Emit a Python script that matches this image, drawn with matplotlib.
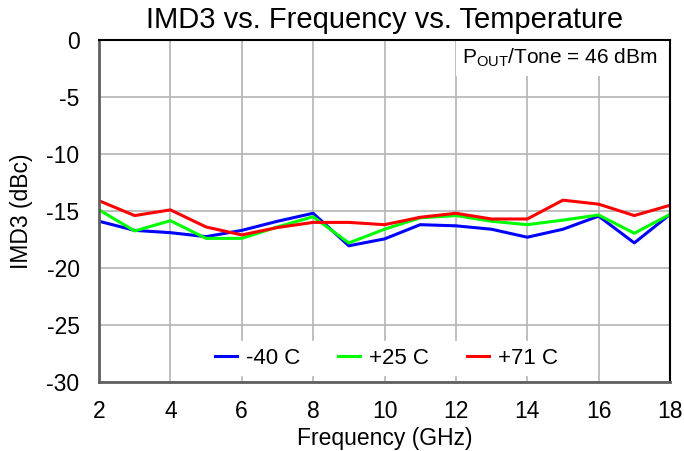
import numpy as np
import matplotlib.pyplot as plt

plt.rcParams['font.family'] = ['Liberation Sans', 'DejaVu Sans']
plt.rcParams['axes.unicode_minus'] = False

# data
freq = np.arange(2, 19)
imd_m40 = [-15.9, -16.7, -16.9, -17.25, -16.7, -15.9, -15.2, -18.05, -17.45,
           -16.2, -16.3, -16.6, -17.3, -16.6, -15.45, -17.8, -15.3]
imd_p25 = [-14.9, -16.75, -15.85, -17.4, -17.4, -16.4, -15.5, -17.8, -16.6,
           -15.6, -15.4, -15.9, -16.2, -15.8, -15.35, -16.95, -15.3]
imd_p71 = [-14.1, -15.4, -14.9, -16.4, -17.1, -16.45, -16.0, -16.0, -16.2,
           -15.55, -15.2, -15.7, -15.7, -14.05, -14.4, -15.4, -14.5]

fig = plt.figure(figsize=(6.84, 4.51), dpi=100)
ax = fig.add_axes([99/684, 1 - 382/451, 571/684, 342/451])

ax.plot(freq, imd_m40, color='#0000ff', linewidth=2.2, label='-40 C')
ax.plot(freq, imd_p25, color='#00ff00', linewidth=2.2, label='+25 C')
ax.plot(freq, imd_p71, color='#ff0000', linewidth=2.2, label='+71 C')

ax.set_xlim(2, 18)
ax.set_ylim(-30, 0)
ax.set_xticks(np.arange(2, 19, 2))
ax.set_yticks(np.arange(-30, 1, 5))
ax.grid(True, color='#b4b4b4', linewidth=1.2)
ax.tick_params(axis='x', length=0, labelsize=16.5, pad=13)
ax.tick_params(axis='y', length=0, labelsize=16.5, pad=14)

for s in ['left', 'bottom']:
    ax.spines[s].set_color('#606060')
    ax.spines[s].set_linewidth(2)
for s in ['top', 'right']:
    ax.spines[s].set_color('black')
    ax.spines[s].set_linewidth(1.5)

ax.set_xlabel('Frequency (GHz)', fontsize=16.5, labelpad=3)
ax.set_ylabel('IMD3 (dBc)', fontsize=16.5, labelpad=10)
ax.set_title('IMD3 vs. Frequency vs. Temperature', fontsize=21, pad=8.5)

ax.text(0.807, 0.947, r'P$_{\mathregular{OUT}}$/Tone = 46 dBm', transform=ax.transAxes,
        ha='center', va='center', fontsize=15,
        bbox=dict(boxstyle='square,pad=0.3', facecolor='white', edgecolor='none'))

leg = ax.legend(loc='center', bbox_to_anchor=(0.5035, 0.07), ncol=3, frameon=True,
                fontsize=16, handlelength=1.0, columnspacing=1.7, handletextpad=0.4,
                borderpad=0.3)
leg.get_frame().set_edgecolor('white')
leg.get_frame().set_alpha(1)

fig.savefig('out.png', dpi=100)
